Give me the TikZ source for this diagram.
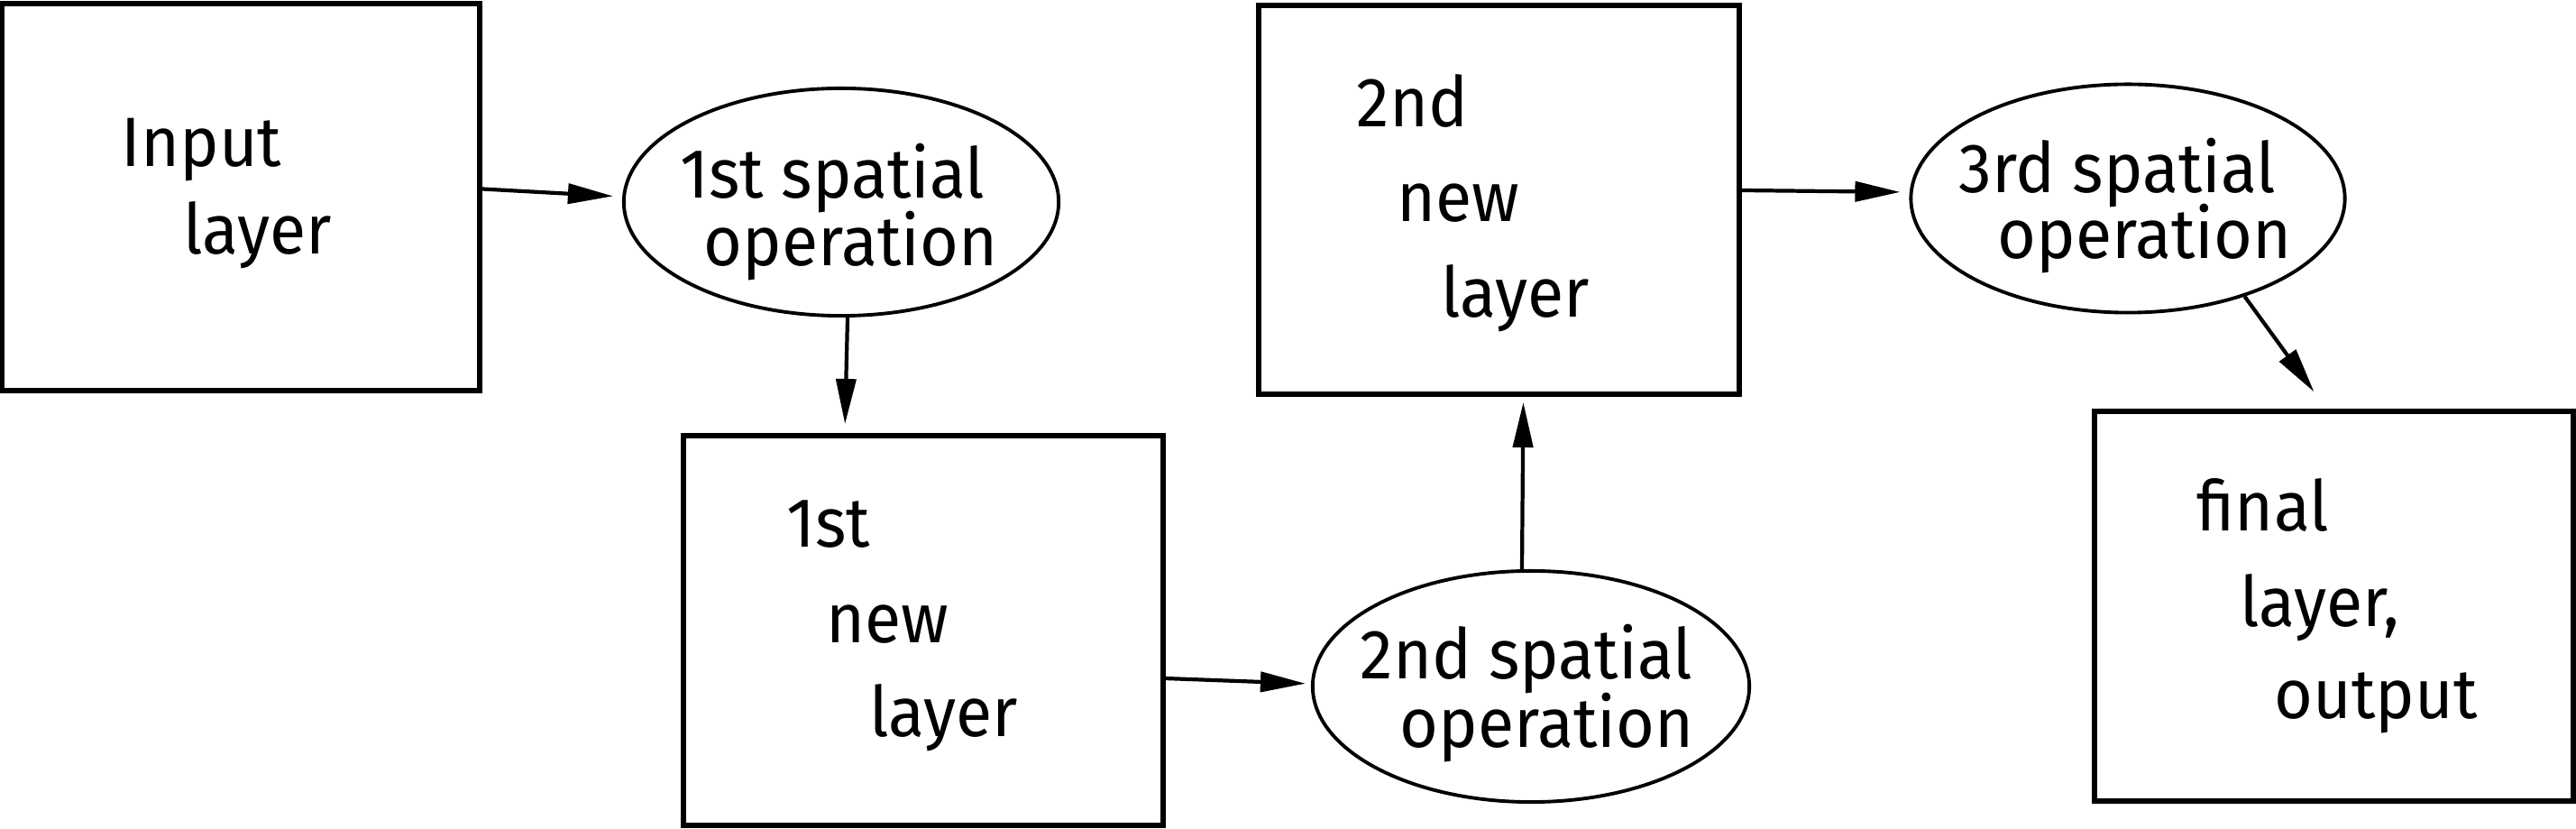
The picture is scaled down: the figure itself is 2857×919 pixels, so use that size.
\documentclass[tikz,border=0pt]{standalone}
\usepackage{fontspec}
\setmainfont{Fira Sans}[FakeStretch=0.95]
\usetikzlibrary{arrows.meta,shapes.geometric}
\begin{document}
\begin{tikzpicture}[x=0.01cm,y=-0.01cm,
  layerbox/.style={draw,line width=1.6pt,rectangle,inner sep=0pt},
  opell/.style={draw,line width=1.1pt,ellipse,inner sep=0pt},
  arr/.style={line width=1.2pt,-{Triangle[length=0.5cm,width=0.22cm]}},
  txt/.style={anchor=base west,inner sep=0pt,font=\fontsize{22pt}{26pt}\selectfont}]
\useasboundingbox (0,0) rectangle (2857,919);
% boxes
\node[layerbox,minimum width=5.3cm,minimum height=4.29cm] (in) at (267,218.5) {};
\node[layerbox,minimum width=5.32cm,minimum height=4.32cm] (b1) at (1024,699) {};
\node[layerbox,minimum width=5.33cm,minimum height=4.31cm] (b2) at (1662.5,221.5) {};
\node[layerbox,minimum width=5.31cm,minimum height=4.32cm] (b3) at (2588.5,672) {};
% ellipses
\node[opell,minimum width=4.82cm,minimum height=2.52cm] (e1) at (933,224) {};
\node[opell,minimum width=4.84cm,minimum height=2.56cm] (e2) at (1698,761) {};
\node[opell,minimum width=4.81cm,minimum height=2.53cm] (e3) at (2360,220) {};
% texts
\node[txt] (t1) at (134,185) {Input};
\node[txt] (t2) at (203,282) {layer};
\node[txt] (t3) at (754,220) {1st spatial};
\node[txt] (t4) at (780,295) {operation};
\node[txt] (t5) at (872,607) {1st};
\node[txt] (t6) at (916,713) {new};
\node[txt] (t7) at (964,817) {layer};
\node[txt] (t8) at (1508,753) {2nd spatial};
\node[txt] (t9) at (1552,828) {operation};
\node[txt] (t10) at (1504,141) {2nd};
\node[txt] (t11) at (1549,246) {new};
\node[txt] (t12) at (1598,352) {layer};
\node[txt] (t13) at (2172,214) {3rd spatial};
\node[txt] (t14) at (2215,287) {operation};
\node[txt] (t15) at (2436,589) {final};
\node[txt] (t16) at (2484,695) {layer,};
\node[txt] (t17) at (2522,797) {output};
% connectors
\draw[arr,shorten >=0.1cm] ([yshift=0.09cm]in.east) -- ([yshift=0.06cm]e1.west);
\draw[arr,shorten >=0.1cm] ([xshift=0.07cm]e1.south) -- ([xshift=-0.87cm]b1.north);
\draw[arr,shorten >=0.06cm] ([yshift=-0.53cm]b1.east) -- ([yshift=0.03cm]e2.west);
\draw[arr,shorten >=0.06cm] ([xshift=-0.1cm]e2.north) -- ([xshift=0.27cm]b2.south);
\draw[arr,shorten >=0.1cm] ([yshift=0.105cm]b2.east) -- ([yshift=0.07cm]e3.west);
\draw[arr,shorten >=0.23cm] (e3.-40) -- ([xshift=-0.085cm]b3.north);
\end{tikzpicture}
\end{document}
